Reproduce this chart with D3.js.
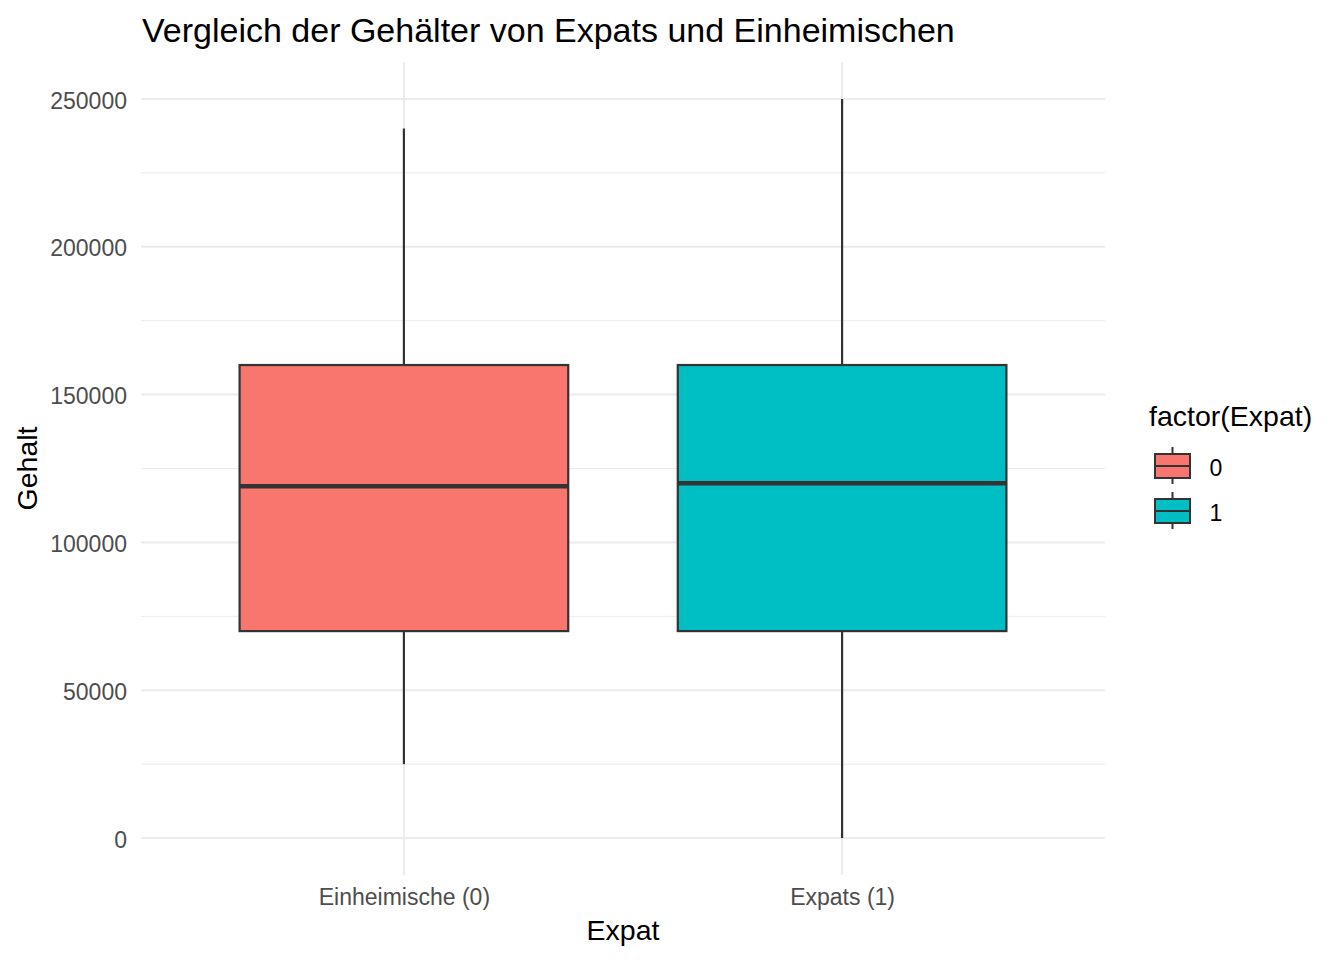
<!DOCTYPE html>
<html>
<head>
<meta charset="utf-8">
<script src="https://cdn.jsdelivr.net/npm/d3@7"></script>
<style>
  body { margin: 0; background: #fff; }
  text { font-family: "Liberation Sans", Arial, sans-serif; }
</style>
</head>
<body>
<svg id="chart" width="1344" height="960"></svg>
<script>
// data
const categories = ["Einheimische (0)", "Expats (1)"];
const groups = ["0", "1"];
const whiskerLow = [25000, 0];
const q1 = [70000, 70000];
const median = [119000, 120000];
const q3 = [160000, 160000];
const whiskerHigh = [240000, 250000];
const colors = ["#F8766D", "#00BFC4"];
const yTicks = [0, 50000, 100000, 150000, 200000, 250000];
const yMinor = [25000, 75000, 125000, 175000, 225000];

const svg = d3.select("#chart");
const panel = { left: 141, right: 1105, top: 62, bottom: 875 };

const x = d3.scalePoint()
    .domain(categories)
    .range([panel.left, panel.right])
    .padding(0.6);
const boxW = x.step() * 0.75;

const y = d3.scaleLinear()
    .domain([-12500, 262500])
    .range([panel.bottom, panel.top]);

// grid
svg.append("g").selectAll("line")
    .data(yMinor)
    .join("line")
    .attr("x1", panel.left).attr("x2", panel.right)
    .attr("y1", d => y(d)).attr("y2", d => y(d))
    .attr("stroke", "#EBEBEB").attr("stroke-width", 1);

svg.append("g").selectAll("line")
    .data(yTicks)
    .join("line")
    .attr("x1", panel.left).attr("x2", panel.right)
    .attr("y1", d => y(d)).attr("y2", d => y(d))
    .attr("stroke", "#EBEBEB").attr("stroke-width", 2);

svg.append("g").selectAll("line")
    .data(categories)
    .join("line")
    .attr("x1", d => x(d)).attr("x2", d => x(d))
    .attr("y1", panel.top).attr("y2", panel.bottom)
    .attr("stroke", "#EBEBEB").attr("stroke-width", 2);

// boxes
const boxes = categories.map((c, i) => ({
    cat: c, lo: whiskerLow[i], q1: q1[i], med: median[i], q3: q3[i], hi: whiskerHigh[i], color: colors[i]
}));

const bg = svg.append("g").selectAll("g")
    .data(boxes)
    .join("g");

bg.append("line")
    .attr("x1", d => x(d.cat)).attr("x2", d => x(d.cat))
    .attr("y1", d => y(d.q3)).attr("y2", d => y(d.hi))
    .attr("stroke", "#333333").attr("stroke-width", 2.2);

bg.append("line")
    .attr("x1", d => x(d.cat)).attr("x2", d => x(d.cat))
    .attr("y1", d => y(d.q1)).attr("y2", d => y(d.lo))
    .attr("stroke", "#333333").attr("stroke-width", 2.2);

bg.append("rect")
    .attr("x", d => x(d.cat) - boxW / 2)
    .attr("width", boxW)
    .attr("y", d => y(d.q3))
    .attr("height", d => y(d.q1) - y(d.q3))
    .attr("fill", d => d.color)
    .attr("stroke", "#333333").attr("stroke-width", 2.2);

bg.append("line")
    .attr("x1", d => x(d.cat) - boxW / 2).attr("x2", d => x(d.cat) + boxW / 2)
    .attr("y1", d => y(d.med)).attr("y2", d => y(d.med))
    .attr("stroke", "#333333").attr("stroke-width", 4.5);

// axes
const yAxis = svg.append("g")
    .attr("transform", `translate(${panel.left},0)`)
    .call(d3.axisLeft(y).tickValues(yTicks).tickFormat(d3.format("d")).tickSize(0).tickPadding(14));
yAxis.select(".domain").remove();
yAxis.selectAll("text")
    .attr("fill", "#4D4D4D")
    .attr("dy", "0.40em")
    .style("font-size", "23px");

const xAxis = svg.append("g")
    .attr("transform", `translate(0,${panel.bottom})`)
    .call(d3.axisBottom(x).tickSize(0).tickPadding(14));
xAxis.select(".domain").remove();
xAxis.selectAll("text")
    .attr("fill", "#4D4D4D")
    .style("font-size", "23px");

// titles
svg.append("text")
    .attr("x", 142).attr("y", 42)
    .style("font-size", "34px")
    .text("Vergleich der Gehälter von Expats und Einheimischen");

svg.append("text")
    .attr("x", (panel.left + panel.right) / 2).attr("y", 940)
    .attr("text-anchor", "middle")
    .style("font-size", "28.5px")
    .text("Expat");

svg.append("text")
    .attr("transform", `translate(37,${(panel.top + panel.bottom) / 2}) rotate(-90)`)
    .attr("text-anchor", "middle")
    .style("font-size", "28.5px")
    .text("Gehalt");

// legend
const legend = svg.append("g");
legend.append("text")
    .attr("x", 1149).attr("y", 426)
    .style("font-size", "28.5px")
    .text("factor(Expat)");

const keys = legend.selectAll("g.key")
    .data(groups)
    .join("g")
    .attr("class", "key")
    .attr("transform", (d, i) => `translate(1172.5,${466 + i * 45})`);

keys.append("line")
    .attr("y1", -19).attr("y2", 18)
    .attr("stroke", "#333333").attr("stroke-width", 2);
keys.append("rect")
    .attr("x", -17.5).attr("y", -12).attr("width", 35).attr("height", 24)
    .attr("fill", (d, i) => colors[i])
    .attr("stroke", "#333333").attr("stroke-width", 2);
keys.append("line")
    .attr("x1", -17.5).attr("x2", 17.5)
    .attr("stroke", "#333333").attr("stroke-width", 2);
keys.append("text")
    .attr("x", 37).attr("dy", "0.42em")
    .style("font-size", "23px")
    .text(d => d);
</script>
</body>
</html>
